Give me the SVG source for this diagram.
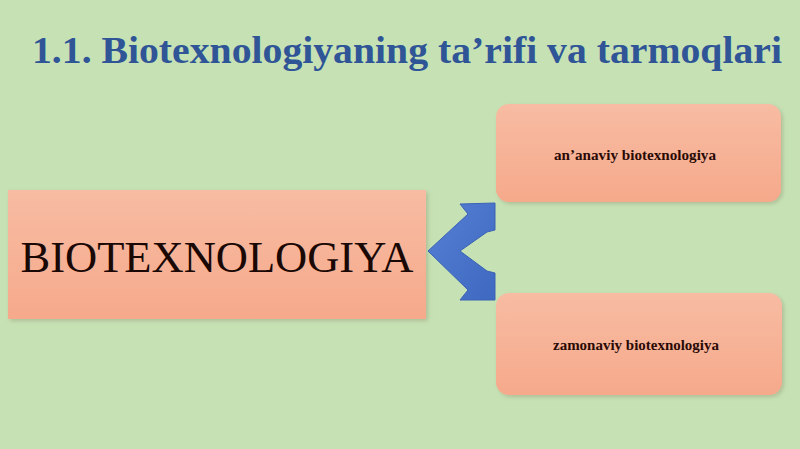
<svg xmlns="http://www.w3.org/2000/svg" width="800" height="449" viewBox="0 0 800 449">
<defs>
<linearGradient id="salmon" x1="0" y1="0" x2="0" y2="1">
<stop offset="0" stop-color="#f7bca3"/>
<stop offset="1" stop-color="#f6a98b"/>
</linearGradient>
<linearGradient id="blue" x1="0" y1="0" x2="1" y2="1">
<stop offset="0" stop-color="#5580d4"/>
<stop offset="1" stop-color="#3f68c0"/>
</linearGradient>
<filter id="sh" x="-10%" y="-10%" width="120%" height="130%">
<feDropShadow dx="2" dy="2" stdDeviation="2" flood-color="#7a6a50" flood-opacity="0.3"/>
</filter>
<style>
.box{fill:url(#salmon);filter:url(#sh);}
.small{font-family:"Liberation Serif",serif;font-weight:bold;font-size:15px;fill:#2a0a05;text-anchor:middle;}
</style>
</defs>
<rect width="800" height="449" fill="#c6e2b5"/>
<text x="32" y="63" font-family="Liberation Serif, serif" font-weight="bold" font-size="37" fill="#2f5597" textLength="750" lengthAdjust="spacingAndGlyphs">1.1. Biotexnologiyaning ta’rifi va tarmoqlari</text>
<g id="main">
<rect class="box" x="8" y="190" width="418" height="129"/>
<text x="217" y="272" font-family="Liberation Serif, serif" font-size="44" fill="#1a0805" text-anchor="middle" textLength="393" lengthAdjust="spacingAndGlyphs">BIOTEXNOLOGIYA</text>
</g>
<g id="connectors">
<polygon points="495,203 495,230 487,232 460,251 487,271 495,273 495,300 460,300 468,290 428,251 468,214 460,204" fill="url(#blue)" stroke="#3a62b5" stroke-width="1"/>
</g>
<g id="ananaviy">
<rect class="box" x="496" y="104" width="285" height="98" rx="13"/>
<text class="small" x="635" y="160" textLength="162" lengthAdjust="spacingAndGlyphs">an’anaviy biotexnologiya</text>
</g>
<g id="zamonaviy">
<rect class="box" x="496" y="293" width="286" height="102" rx="13"/>
<text class="small" x="636" y="350" textLength="166" lengthAdjust="spacingAndGlyphs">zamonaviy biotexnologiya</text>
</g>
</svg>
